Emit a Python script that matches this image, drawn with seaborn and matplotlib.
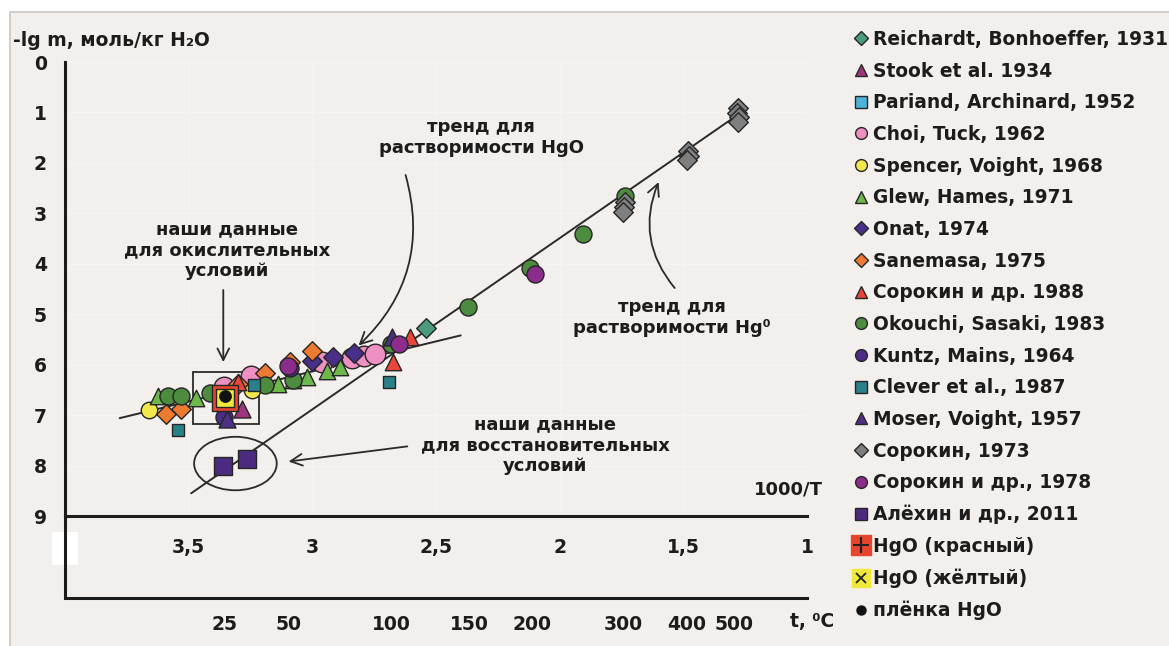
import numpy as np
import pandas as pd
import matplotlib
matplotlib.use('Agg')
import matplotlib.pyplot as plt
import seaborn as sns
from matplotlib.lines import Line2D
from matplotlib.patches import Rectangle, Ellipse

# ---------------- data (x = 1000/T, y = -lg m) ----------------
reichardt_x = [2.54]
reichardt_y = [5.27]
stook_x = [3.285]
stook_y = [6.87]
pariand_x = [3.245]
pariand_y = [6.42]
choi_x = [3.357, 3.25, 2.96, 2.84, 2.79, 2.745]
choi_y = [6.45, 6.22, 5.95, 5.87, 5.83, 5.79]
spencer_x = [3.66, 3.245]
spencer_y = [6.90, 6.50]
glew_x = [3.625, 3.47, 3.14, 3.08, 3.02, 2.94, 2.89]
glew_y = [6.63, 6.67, 6.38, 6.31, 6.24, 6.12, 6.05]
onat_x = [3.00, 2.915, 2.83]
onat_y = [5.93, 5.84, 5.77]
sanemasa_x = [3.59, 3.53, 3.30, 3.19, 3.09, 3.00]
sanemasa_y = [6.98, 6.87, 6.38, 6.16, 5.94, 5.73]
sorokin88_x = [3.30, 2.675, 2.605]
sorokin88_y = [6.34, 5.95, 5.46]
okouchi_x = [3.584, 3.531, 3.414, 3.19, 3.08, 2.68, 2.37, 2.12, 1.905, 1.736]
okouchi_y = [6.62, 6.62, 6.56, 6.40, 6.30, 5.60, 4.85, 4.09, 3.40, 2.66]
kuntz_x = [3.357, 3.09]
kuntz_y = [7.03, 6.07]
clever_x = [3.545, 3.235, 2.692]
clever_y = [7.30, 6.40, 6.34]
moser_x = [3.345, 2.677]
moser_y = [7.08, 5.45]
sorokin73_x = [1.28, 1.285, 1.275, 1.28, 1.48, 1.478, 1.485, 1.735, 1.74, 1.745]
sorokin73_y = [0.92, 1.02, 1.10, 1.18, 1.77, 1.86, 1.95, 2.78, 2.88, 2.98]
sorokin78_x = [3.10, 2.65, 2.10]
sorokin78_y = [6.02, 5.60, 4.20]
alekhin_x = [3.36, 3.265]
alekhin_y = [8.00, 7.87]
hgo_red_x = [3.354]
hgo_red_y = [6.66]
hgo_yellow_x = [3.354]
hgo_yellow_y = [6.66]
film_x = [3.354]
film_y = [6.63]

trend_hgo_x = [3.779, 2.40]
trend_hgo_y = [7.06, 5.42]
trend_hg0_x = [3.49, 1.26]
trend_hg0_y = [8.55, 0.98]

xticks_inv = [3.5, 3.0, 2.5, 2.0, 1.5, 1.0]
xtick_labels = ['3,5', '3', '2,5', '2', '1,5', '1']
yticks = [0, 1, 2, 3, 4, 5, 6, 7, 8, 9]
temps_c = [25, 50, 100, 150, 200, 300, 400, 500]

labels = ['Reichardt, Bonhoeffer, 1931', 'Stook et al. 1934', 'Pariand, Archinard, 1952',
          'Choi, Tuck, 1962', 'Spencer, Voight, 1968', 'Glew, Hames, 1971', 'Onat, 1974',
          'Sanemasa, 1975', 'Сорокин и др. 1988', 'Okouchi, Sasaki, 1983', 'Kuntz, Mains, 1964',
          'Clever et al., 1987', 'Moser, Voight, 1957', 'Сорокин, 1973', 'Сорокин и др., 1978',
          'Алёхин и др., 2011', 'HgO (красный)', 'HgO (жёлтый)', 'плёнка HgO']

# ---------------- style ----------------
sns.set_theme(style='white')
plt.rcParams['font.family'] = ['DejaVu Sans']
plt.rcParams['font.weight'] = 'bold'
TXT = '#1c1c1c'
EDGE = '#262626'

W, H = 1169, 646
fig = plt.figure(figsize=(W / 100, H / 100), dpi=100, facecolor='white')
fig.patches.append(Rectangle((10 / W, -0.01), 1, 1 - 12 / H + 0.01, transform=fig.transFigure,
                             facecolor='#f2efec', edgecolor='#c9c6c3', lw=1.2, zorder=-2))
fig.patches.append(Rectangle((52 / W, 1 - 565 / H), 26 / W, 33 / H, transform=fig.transFigure,
                             facecolor='white', edgecolor='none', zorder=-1))

ax = fig.add_axes([65 / W, 1 - 516 / H, (807 - 65) / W, (516 - 62) / H])
ax.set_facecolor('none')

series = [
    (reichardt_x, reichardt_y, 'D', '#4a9c7c', 100),
    (stook_x, stook_y, '^', '#a0357f', 150),
    (pariand_x, pariand_y, 's', '#4fb3d9', 75),
    (choi_x, choi_y, 'o', '#ee90c2', 220),
    (spencer_x, spencer_y, 'o', '#f2e84a', 140),
    (glew_x, glew_y, '^', '#6db84b', 140),
    (onat_x, onat_y, 'D', '#4a2f8a', 100),
    (sanemasa_x, sanemasa_y, 'D', '#ec7a30', 100),
    (sorokin88_x, sorokin88_y, '^', '#e8463a', 140),
    (okouchi_x, okouchi_y, 'o', '#4d8b3e', 150),
    (kuntz_x, kuntz_y, 'o', '#4b2d88', 150),
    (clever_x, clever_y, 's', '#2a8088', 75),
    (moser_x, moser_y, '^', '#4e2f86', 150),
    (sorokin73_x, sorokin73_y, 'D', '#7f7f7f', 100),
    (sorokin78_x, sorokin78_y, 'o', '#8c2d8e', 150),
    (alekhin_x, alekhin_y, 's', '#4b2b80', 160),
    (hgo_red_x, hgo_red_y, 's', '#e8452e', 340),
    (hgo_yellow_x, hgo_yellow_y, 's', '#f0e93c', 150),
]
for xs, ys, m, c, s in series:
    sns.scatterplot(x=xs, y=ys, marker=m, color=c, s=s, edgecolor=EDGE, linewidth=1.0,
                    ax=ax, legend=False, zorder=3)
sns.scatterplot(x=film_x, y=film_y, marker='o', color='#111111', s=75, edgecolor='#111111',
                linewidth=0.5, ax=ax, legend=False, zorder=4)

# trend lines
sns.lineplot(x=trend_hgo_x, y=trend_hgo_y, color='#2a2a2a', lw=1.4, ax=ax, sort=False,
             estimator=None, zorder=2)
sns.lineplot(x=trend_hg0_x, y=trend_hg0_y, color='#2a2a2a', lw=1.4, ax=ax, sort=False,
             estimator=None, zorder=2)

ax.set_xlim(4.0, 1.0)
ax.set_ylim(9, 0)
ax.set_xticks(xticks_inv)
ax.set_xticklabels(xtick_labels)
ax.set_yticks(yticks)
ax.set_yticklabels([str(v) for v in yticks])
for sp in ['top', 'right']:
    ax.spines[sp].set_visible(False)
for sp in ['left', 'bottom']:
    ax.spines[sp].set_color(TXT)
    ax.spines[sp].set_linewidth(2.2)
ax.tick_params(axis='both', direction='out', length=6, width=2, color=TXT, labelcolor=TXT,
               labelsize=13.5)
ax.tick_params(axis='x', pad=10)
ax.tick_params(axis='y', pad=7)
ax.grid(True, color='#f6f4f2', lw=1.0)
ax.set_axisbelow(True)
ax.set_xlabel('')
ax.set_ylabel('')

# temperature axis
ax2 = fig.add_axes([65 / W, 1 - 598 / H, (807 - 65) / W, (598 - 516) / H])
ax2.set_facecolor('none')
ax2.set_xlim(4.0, 1.0)
ax2.set_ylim(0, 1)
ax2.set_yticks([])
ax2.set_xticks([1000.0 / (t + 273.15) for t in temps_c])
ax2.set_xticklabels([str(t) for t in temps_c])
for sp in ['top', 'right']:
    ax2.spines[sp].set_visible(False)
for sp in ['left', 'bottom']:
    ax2.spines[sp].set_color(TXT)
    ax2.spines[sp].set_linewidth(2.2)
ax2.tick_params(axis='x', direction='out', length=6, width=2, color=TXT, labelcolor=TXT,
                labelsize=13.5, pad=6)

# annotation shapes
ax.add_patch(Rectangle((3.214, 6.145), 0.267, 1.025, fill=False, edgecolor='#2a2a2a', lw=1.3,
                       zorder=2))
ax.add_patch(Ellipse((3.311, 7.96), 0.334, 1.06, fill=False, edgecolor='#2a2a2a', lw=1.3,
                     zorder=2))

aprops = dict(arrowstyle='->,head_length=0.7,head_width=0.35', color='#2a2a2a', lw=1.3,
              shrinkA=0, shrinkB=0)
ax.annotate('', xy=(3.36, 5.95), xytext=(3.36, 4.52),
            arrowprops=dict(aprops, connectionstyle='arc3,rad=0'))
ax.annotate('', xy=(2.813, 5.62), xytext=(2.623, 2.24),
            arrowprops=dict(aprops, connectionstyle='arc3,rad=-0.3'))
ax.annotate('', xy=(1.600, 2.38), xytext=(1.535, 4.48),
            arrowprops=dict(aprops, connectionstyle='arc3,rad=-0.3'))
ax.annotate('', xy=(3.096, 7.92), xytext=(2.616, 7.62),
            arrowprops=dict(aprops, connectionstyle='arc3,rad=0'))

tkw = dict(ha='center', va='center', fontsize=13, color=TXT, weight='bold', linespacing=1.22)
ax.text(3.345, 3.73, 'наши данные\nдля окислительных\nусловий', **tkw)
ax.text(2.318, 1.49, 'тренд для\nрастворимости HgO', **tkw)
ax.text(1.548, 5.06, 'тренд для\nрастворимости Hg⁰', **tkw)
ax.text(2.059, 7.60, 'наши данные\nдля восстановительных\nусловий', **tkw)

fig.text(13 / W, 1 - 40 / H, '-lg m, моль/кг H₂O', ha='left', va='center', fontsize=13.5,
         color=TXT, weight='bold')
fig.text(823 / W, 1 - 490 / H, '1000/T', ha='right', va='center', fontsize=13, color=TXT,
         weight='bold')
fig.text(790 / W, 1 - 622 / H, 't, ⁰C', ha='left', va='center', fontsize=13.5, color=TXT,
         weight='bold')

# legend
handles = []
for xs, ys, m, c, s in series[:16]:
    handles.append(Line2D([], [], ls='none', marker=m, markersize=8.5 if m != 'D' else 7.5,
                          markerfacecolor=c, markeredgecolor=EDGE, markeredgewidth=1.0))
handles.append((Line2D([], [], ls='none', marker='s', markersize=15, markerfacecolor='#e8452e',
                       markeredgecolor='#e8452e'),
                Line2D([], [], ls='none', marker='+', markersize=11, markeredgecolor='#222',
                       markeredgewidth=1.5)))
handles.append((Line2D([], [], ls='none', marker='s', markersize=12.5, markerfacecolor='#f0e93c',
                       markeredgecolor='#f0e93c'),
                Line2D([], [], ls='none', marker='x', markersize=7, markeredgecolor='#222',
                       markeredgewidth=1.3)))
handles.append(Line2D([], [], ls='none', marker='o', markersize=6.5, markerfacecolor='#111',
                      markeredgecolor='#111'))
fig.legend(handles, labels, loc='upper left', bbox_to_anchor=(853 / W, 1 - 30 / H),
           frameon=False, fontsize=13.4, handlelength=0.9, handletextpad=0.2,
           labelspacing=0.68, borderpad=0, borderaxespad=0, labelcolor=TXT)

fig.savefig('out.png', dpi=100, facecolor='white')
